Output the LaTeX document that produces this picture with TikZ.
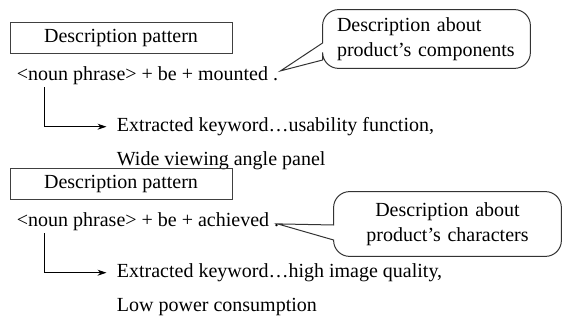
\documentclass[tikz,border=0pt]{standalone}
\usepackage{fontspec}
\setmainfont{Liberation Serif}
\usetikzlibrary{arrows.meta,positioning}

\begin{document}
\begin{tikzpicture}[
    x=0.5pt, y=-0.5pt,
    every node/.style={font=\fontsize{10}{12.5}\selectfont},
    patbox/.style={draw=black!75, line width=0.5pt, minimum width=111pt, minimum height=15.5pt, inner sep=0pt},
    phrase/.style={inner sep=0pt, text height=7pt, text depth=2pt},
    note/.style={inner xsep=7pt, inner ysep=0pt},
    balloon/.style={draw=black!80, line width=0.5pt},
    flow/.style={-{Stealth[length=4.5pt,width=3pt]}, line width=0.5pt, shorten >=5pt}
]
\useasboundingbox (0,0) rectangle (562,320);

% first pattern
\node[patbox] (pat1) at (121,38.5) {Description pattern};
\node[phrase, below right=6pt and 3.5pt of pat1.south west] (noun1) {<noun phrase> + be + mounted .};
\node[phrase, below right=16pt and 50pt of noun1.south west] (key1) {Extracted keyword…usability function,};
\node[phrase, below right=7.5pt and 0pt of key1.south west] (word1) {Wide viewing angle panel};
\draw[flow] ([shift={(14pt,-1pt)}]noun1.south west) |- (key1.west);

% second pattern
\node[patbox] (pat2) at (121,184.5) {Description pattern};
\node[phrase, below right=6pt and 3.5pt of pat2.south west] (noun2) {<noun phrase> + be + achieved .};
\node[phrase, below right=16pt and 50pt of noun2.south west] (key2) {Extracted keyword…high image quality,};
\node[phrase, below right=7.5pt and 0pt of key2.south west] (word2) {Low power consumption};
\draw[flow] ([shift={(14pt,-1pt)}]noun2.south west) |- (key2.west);

% callouts
\node[note, text width=89.5pt, minimum height=29pt, align=left] (note1) at (426.5,39) {Description about\\product's components};
\coordinate (tip1) at ([shift={(1pt,2.5pt)}]noun1.east);
\draw[balloon] (tip1) -- ([yshift=-2pt]note1.west) [rounded corners=8pt] -- (note1.north west) -- (note1.north east)
    -- (note1.south east) -- (note1.south west) [sharp corners] -- ([yshift=-10.5pt]note1.west) -- cycle;

\node[note, text width=99.5pt, minimum height=32pt, align=center] (note2) at (447.5,224) {Description about\\product's characters};
\coordinate (tip2) at ([shift={(-1pt,-1pt)}]noun2.east);
\draw[balloon] (tip2) -- ([yshift=-0.5pt]note2.west) [rounded corners=8pt] -- (note2.north west) -- (note2.north east)
    -- (note2.south east) -- (note2.south west) [sharp corners] -- ([yshift=-8pt]note2.west) -- cycle;
\end{tikzpicture}
\end{document}
